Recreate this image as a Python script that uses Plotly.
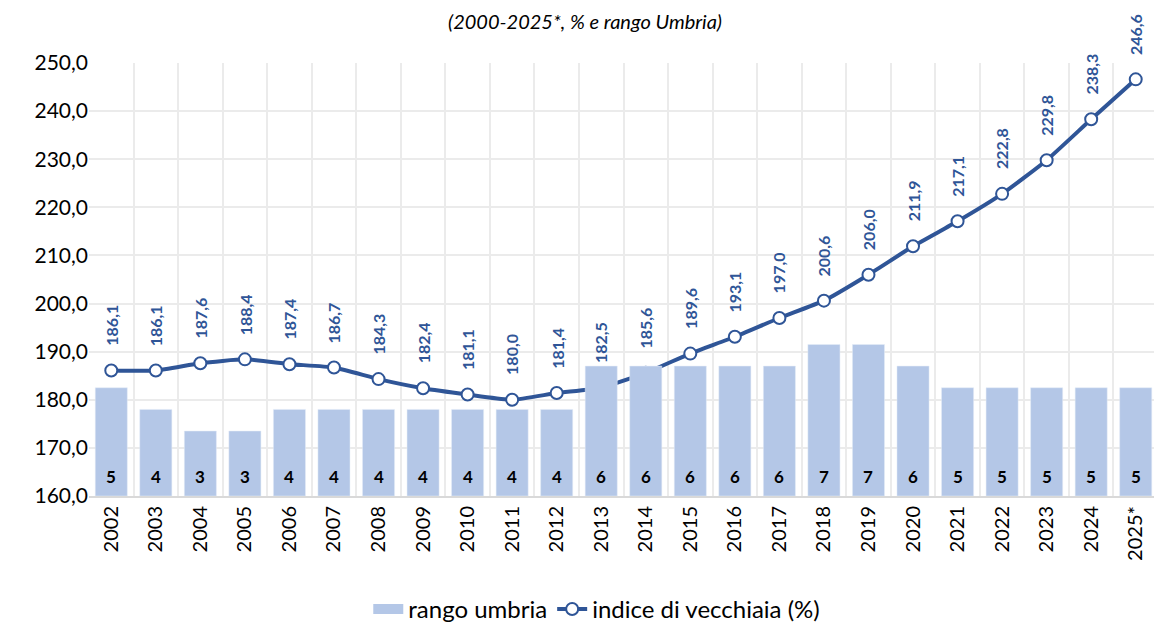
import plotly.graph_objects as go

# Dati
anni = [str(a) for a in range(2002, 2025)] + ["2025*"]
indice_vecchiaia = [186.1, 186.1, 187.6, 188.4, 187.4, 186.7, 184.3, 182.4, 181.1, 180.0,
                    181.4, 182.5, 185.6, 189.6, 193.1, 197.0, 200.6, 206.0, 211.9, 217.1,
                    222.8, 229.8, 238.3, 246.6]
rango_umbria = [5, 4, 3, 3, 4, 4, 4, 4, 4, 4, 4, 6, 6, 6, 6, 6, 7, 7, 6, 5, 5, 5, 5, 5]

BLU = "#2f5597"
AZZURRO = "#b4c7e7"
FONT = "Lato, 'Open Sans', sans-serif"

fig = go.Figure()

# Barre: rango (asse secondario nascosto)
fig.add_trace(go.Bar(
    x=anni, y=rango_umbria,
    name="rango umbria",
    marker=dict(color=AZZURRO),
    yaxis="y2",
    showlegend=False,
))

# voce di legenda per le barre (rettangolo largo come in Excel)
fig.add_trace(go.Scatter(
    x=[None], y=[None],
    mode="lines",
    name="rango umbria",
    line=dict(color=AZZURRO, width=13),
))

# Linea: indice di vecchiaia
fig.add_trace(go.Scatter(
    x=anni, y=indice_vecchiaia,
    name="indice di vecchiaia (%)",
    mode="lines+markers",
    line=dict(color=BLU, width=4, shape="spline", smoothing=0.5),
    marker=dict(size=12, color="white", line=dict(color=BLU, width=2)),
    cliponaxis=False,
))

annotazioni = []
# etichette della linea, ruotate (x = indice della categoria)
for i, v in enumerate(indice_vecchiaia):
    annotazioni.append(dict(
        x=i, y=v, xref="x", yref="y",
        text=f"{v:.1f}".replace(".", ","),
        textangle=-90, showarrow=False,
        yanchor="middle", yshift=45,
        font=dict(family=FONT, size=16, color=BLU, weight="bold"),
    ))
# etichette delle barre, vicino alla base
for i, r in enumerate(rango_umbria):
    annotazioni.append(dict(
        x=i, y=160, xref="x", yref="y",
        text=str(r), showarrow=False,
        yanchor="middle", yshift=20,
        font=dict(family=FONT, size=17, color="black", weight="bold"),
    ))

# la pagina html ha un margine di 8px: figura un po' più piccola
fig.update_layout(
    width=1154, height=620,
    margin=dict(l=81, r=4, t=55, b=132),
    paper_bgcolor="white", plot_bgcolor="white",
    font=dict(family=FONT, size=21, color="black"),
    separators=",.",
    bargap=0.28,
    title=dict(
        text="<i>(2000-2025*, % e rango Umbria)</i>",
        x=0.5, xanchor="center", y=0.977, yanchor="middle",
        font=dict(family=FONT, size=20, color="black"),
    ),
    xaxis=dict(
        type="category",
        range=[-0.5, 23.5],
        tickson="boundaries",
        showgrid=True, gridcolor="#ebebeb", gridwidth=2,
        showline=True, linecolor="#d9d9d9", linewidth=2,
        ticks="", tickangle=-90,
        tickfont=dict(size=20),
    ),
    yaxis=dict(
        range=[160, 250], dtick=10, tickformat=".1f",
        showgrid=True, gridcolor="#ebebeb", gridwidth=2,
        zeroline=False, showline=False, ticks="",
        tickfont=dict(size=21),
    ),
    yaxis2=dict(
        range=[0, 20], overlaying="y", side="right",
        visible=False, showgrid=False,
    ),
    legend=dict(
        orientation="h", x=0.475, xanchor="center",
        yref="container", y=0.03, yanchor="middle",
        font=dict(size=24),
        traceorder="normal",
    ),
    annotations=annotazioni,
)

fig.write_html("out.html")
